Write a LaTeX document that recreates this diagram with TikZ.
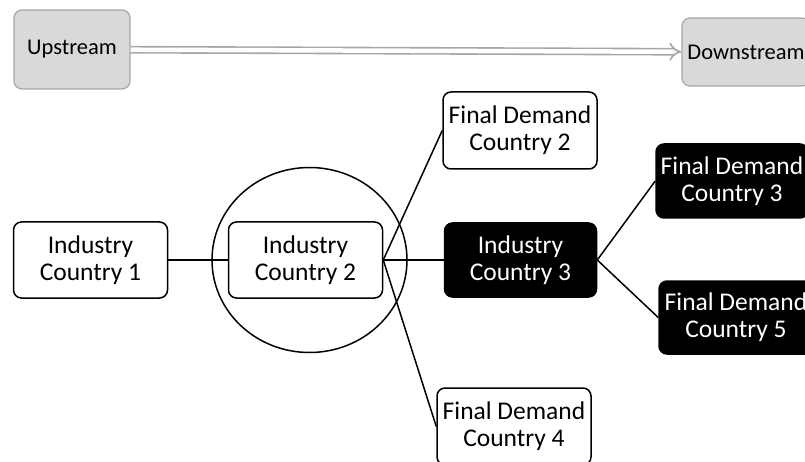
\documentclass[tikz,border=0pt]{standalone}
\usepackage{fontspec}
\setmainfont{Carlito}
\usepackage{tikz}
\usetikzlibrary{arrows.meta}
\definecolor{flowline}{HTML}{A6A6A6}
\definecolor{flowfill}{HTML}{D9D9D9}

\begin{document}
\begin{tikzpicture}[x=1pt, y=-1pt, node distance=215pt,
  box/.style={draw, line width=1.5pt, rounded corners=8pt, align=center, inner sep=0pt,
    minimum width=154pt, minimum height=76pt, font=\fontsize{25.5}{27}\selectfont},
  dark/.style={box, fill=black, text=white},
  flow/.style={draw=flowline, fill=flowfill, line width=1.2pt, rounded corners=8pt, inner sep=0pt,
    font=\fontsize{22.5}{24}\selectfont},
  link/.style={line width=1.5pt}]
\useasboundingbox (0,0) rectangle (805,462);
% upstream / downstream
\node[flow, minimum width=116pt, minimum height=79pt] (up) at (72,49.5) {Upstream};
\node[flow, minimum width=128pt, minimum height=68pt] (down) at (746,52) {Downstream};
\draw[draw=flowline, double=white, double distance=4.5pt, line width=1.6pt,
  -{Implies[length=8pt, width=20pt]}] (up) -- (down);
% industries
\node[box] (ind1) at (90.5,260) {Industry\\Country 1};
\node[box, right of=ind1] (ind2) {Industry\\Country 2};
\node[dark, right of=ind2, minimum height=74pt, minimum width=152pt] (ind3) {Industry\\Country 3};
\draw[line width=1.5pt] ([xshift=4pt]ind2.center) ellipse [x radius=97.5, y radius=92.5];
% final demand
\node[box, minimum height=77pt] (fd2) at (520,130.5) {Final Demand\\Country 2};
\node[box, minimum height=77pt] (fd4) at (514,426.5) {Final Demand\\Country 4};
\node[dark, minimum width=152pt, minimum height=74pt] (fd3) at (732,181) {Final Demand\\Country 3};
\node[dark, minimum width=154pt, minimum height=73pt] (fd5) at (736,317.5) {Final Demand\\Country 5};
\draw[link] (ind1) -- (ind2);
\draw[link] (ind2) -- (ind3);
\draw[link] (ind2.east) -- (fd2.west);
\draw[link] (ind2.east) -- (fd4.west);
\draw[link] (ind3.east) -- (fd3.west);
\draw[link] (ind3.east) -- (fd5.west);
\end{tikzpicture}
\end{document}
